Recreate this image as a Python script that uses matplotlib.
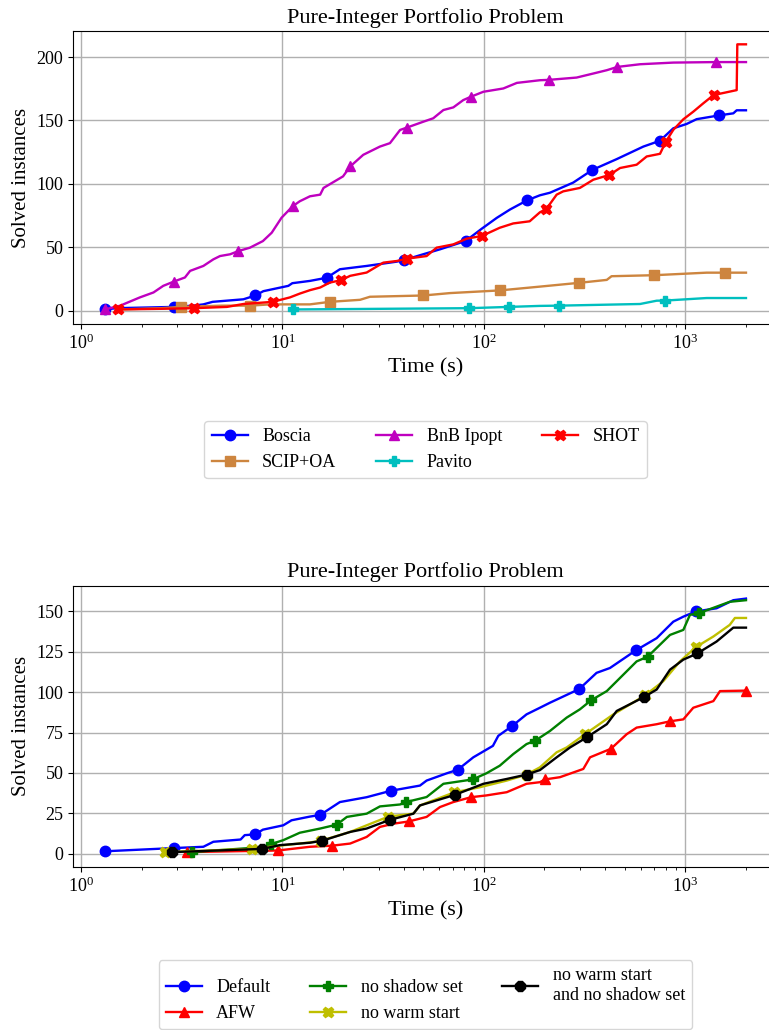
import matplotlib
matplotlib.use("Agg")
import matplotlib.pyplot as plt

plt.rcParams['font.family'] = ['Liberation Serif', 'DejaVu Serif']
plt.rcParams['mathtext.fontset'] = 'stix'

# --- top panel: solver comparison (time in s, solved count) ---
boscia_t = [1.5, 3.6, 4.05, 4.5, 6.4, 8.04, 10.7, 11.2, 13.7, 19.3, 26.2, 37, 50, 60.6, 97.6, 116, 135, 190, 213, 278, 457, 620, 873, 1016, 1140, 1734, 1802, 2004]
boscia_v = [2, 4, 5, 7, 9, 15.4, 19.6, 21.7, 23.5, 32.7, 35.3, 38.7, 44.5, 48.4, 64.6, 73.2, 79.8, 91, 93, 101, 119.5, 129.4, 143.8, 147.2, 151, 155.6, 158, 158]
boscia_mt = [1.31, 2.89, 7.34, 16.6, 40.3, 81.3, 164, 346, 750, 1476]
boscia_mv = [1, 3, 12, 26, 40, 55, 87, 111, 134, 154]

bnb_t = [1.56, 1.96, 2.29, 2.56, 3.28, 3.48, 4.05, 4.54, 4.9, 5.5, 6.9, 8.0, 8.85, 9.9, 12.2, 13.7, 15.4, 16, 20, 25.2, 30.5, 34.2, 38.4, 50.1, 56.1, 63, 70.6, 79, 99.5, 125, 146, 190, 289, 350, 408, 597, 873, 2004]
bnb_v = [3.9, 10.5, 14.4, 19.6, 26.2, 31.4, 35.3, 40.5, 43.1, 44.5, 49.7, 54.9, 61.5, 73.3, 86.3, 90.2, 91.5, 96.8, 105.9, 122.9, 129.4, 132.1, 142.5, 149, 151.7, 158.2, 160.3, 166, 172.6, 175.2, 179.6, 181.7, 183.8, 187, 189.6, 194.3, 195.6, 196]
bnb_mt = [1.31, 2.89, 6.04, 11.25, 21.7, 41.4, 86, 211, 461, 1416]
bnb_mv = [1, 23, 47, 82.4, 113.7, 144.3, 168.6, 182, 192.2, 196]

shot_t = [2.5, 5.3, 6.4, 10.9, 12.2, 13.7, 15.4, 17.2, 21.7, 26.2, 31.7, 37, 52, 58.3, 70.6, 82.3, 120, 140, 169, 190, 230, 248, 300, 350, 475, 574, 644, 750, 873, 979, 1097, 1230, 1802, 1815, 2004]
shot_v = [1.5, 3, 5.3, 10.5, 13.5, 16.2, 18.3, 22.2, 27.5, 30.1, 37.9, 39.2, 43.1, 49.7, 52.3, 56.8, 65.4, 68.8, 70.5, 77.6, 91.5, 94.1, 96.8, 103.3, 112.5, 115.1, 121.6, 123.7, 142.6, 150.9, 156.9, 163.5, 173.9, 210, 210]
shot_mt = [1.53, 3.64, 8.95, 19.5, 41.4, 98, 204, 420, 800, 1384]
shot_mv = [1, 2, 7, 24, 41, 59, 80, 107, 133, 170]

scip_t = [1.55, 2.5, 5.0, 8.7, 13.7, 24.3, 27.2, 68, 190, 408, 431, 1279, 2004]
scip_v = [1, 2, 4, 5, 5, 8.6, 11, 13.9, 19, 24.3, 27.2, 30, 30]
scip_mt = [3.14, 6.9, 17.2, 50.1, 120, 298, 703, 1585]
scip_mv = [3, 4, 7, 12, 16, 22, 28, 30]

pavito_t = [190, 597, 722, 1279, 2004]
pavito_v = [3.8, 5.3, 7.9, 10, 10]
pavito_mt = [11.3, 84.5, 133, 236, 794]
pavito_mv = [1, 2, 3, 4, 8]

# --- bottom panel: Boscia variants ---
default_t = [4.05, 4.54, 6.2, 6.5, 8.0, 10.1, 11.1, 13.7, 19.3, 26.2, 48.2, 52, 65.5, 88.7, 111, 118, 163, 190, 213, 363, 423, 722, 873, 979, 1432, 1734, 2004]
default_v = [4.3, 7.4, 8.8, 11.5, 14.9, 17.6, 20.7, 23, 32, 35, 42.2, 45.3, 49.8, 59.7, 66.8, 73, 86.3, 90.4, 93.5, 112, 115, 133.5, 143.7, 146.8, 152, 157, 158]
default_mt = [1.31, 2.89, 7.34, 15.4, 34.6, 74.2, 138, 298, 570, 1127]
default_mv = [1.5, 3.5, 12, 24, 39, 52, 79, 102, 126, 150]

afw_t = [13.7, 21.7, 26.2, 30.5, 35.6, 52, 60.6, 70.6, 103, 130, 163, 190, 239, 312, 337, 512, 574, 722, 979, 1097, 1380, 1489]
afw_v = [4.3, 6.3, 10.4, 16.6, 18.6, 22.8, 28.9, 32, 36.1, 38.1, 43.3, 44.3, 47.4, 52.5, 59.7, 74, 78.1, 80.2, 83.2, 90.4, 94.5, 100.7]
afw_mt = [3.35, 9.5, 17.7, 42.5, 86.4, 201, 428, 841, 2004]
afw_mv = [1, 2, 5, 20, 35, 46, 65, 82, 101]

noshadow_t = [8.4, 10.1, 12.2, 15.4, 20.9, 26.2, 30.5, 38.4, 52, 63, 103, 120, 140, 163, 213, 258, 300, 408, 457, 574, 841, 979, 1056, 1432, 1664, 2004]
noshadow_v = [4.3, 8.4, 13, 15.6, 22.8, 24.8, 29.3, 30.5, 35.1, 43.3, 49.8, 54.5, 61.7, 67.9, 76, 84.3, 89.4, 100.7, 106.8, 119.1, 135.5, 138.6, 147.9, 153, 156, 157]
noshadow_mt = [3.55, 8.8, 18.6, 41.1, 88, 180, 341, 651, 1170]
noshadow_mv = [1, 6, 18, 32, 46, 70, 95, 122, 149]

nowarm_t = [9.7, 13.7, 21.7, 44.7, 48.2, 95.7, 130, 190, 230, 258, 440, 778, 942, 1380, 1664, 1766, 2004]
nowarm_v = [5, 7, 13.5, 24.8, 29.9, 41.2, 45.3, 53.5, 62.8, 65.8, 86.3, 106.8, 119.1, 134.5, 141.7, 146, 146]
nowarm_mt = [2.61, 7.05, 15.5, 33.6, 71.4, 163, 318, 631, 1132]
nowarm_mv = [1, 3, 8, 23, 38, 49, 74, 98, 128]

both_t = [9.7, 13.7, 21.7, 26.2, 44.7, 48.2, 99.5, 130, 190, 230, 268, 408, 457, 722, 841, 979, 1432, 1734, 2004]
both_v = [5.3, 6.8, 13.5, 15.6, 24.8, 29.9, 43.3, 46.3, 51.8, 59.7, 65.8, 80.2, 88.4, 101.7, 114, 120.2, 131.4, 140, 140]
both_mt = [2.84, 7.94, 15.7, 34.2, 72, 163, 324, 624, 1148]
both_mv = [1, 3, 8, 21, 36.5, 49, 72, 97, 124]


def merged(t, v, mt, mv):
    pts = sorted([(a, b, False) for a, b in zip(t, v)] + [(a, b, True) for a, b in zip(mt, mv)])
    xs = [p[0] for p in pts]
    ys = [p[1] for p in pts]
    idx = [i for i, p in enumerate(pts) if p[2]]
    return xs, ys, idx


def draw(ax, series, ylim):
    for label, color, marker, t, v, mt, mv in series:
        xs, ys, idx = merged(t, v, mt, mv)
        ax.plot(xs, ys, color=color, marker=marker, markevery=idx, lw=1.7,
                markersize=7.5, label=label)
    ax.set_xscale('log')
    ax.set_xlim(0.912, 2890)
    ax.set_ylim(*ylim)
    ax.grid(True, color='#b0b0b0', lw=1.0)
    ax.set_title('Pure-Integer Portfolio Problem', fontsize=16)
    ax.set_xlabel('Time (s)', fontsize=16)
    ax.set_ylabel('Solved instances', fontsize=15)
    ax.tick_params(labelsize=13)
    ax.legend(loc='upper center', bbox_to_anchor=(0.5, -0.30), ncol=3, fontsize=13,
              columnspacing=2.2)


fig = plt.figure(figsize=(7.69, 10.30), dpi=100)
ax1 = fig.add_axes([0.0949, 0.6854, 0.9168, 0.2845])
ax2 = fig.add_axes([0.0949, 0.1586, 0.9168, 0.2728])

draw(ax1, [
    ('Boscia', 'b', 'o', boscia_t, boscia_v, boscia_mt, boscia_mv),
    ('SCIP+OA', 'peru', 's', scip_t, scip_v, scip_mt, scip_mv),
    ('BnB Ipopt', 'm', '^', bnb_t, bnb_v, bnb_mt, bnb_mv),
    ('Pavito', 'c', 'P', pavito_t, pavito_v, pavito_mt, pavito_mv),
    ('SHOT', 'r', 'X', shot_t, shot_v, shot_mt, shot_mv),
], (-10.5, 220.5))

draw(ax2, [
    ('Default', 'b', 'o', default_t, default_v, default_mt, default_mv),
    ('AFW', 'r', '^', afw_t, afw_v, afw_mt, afw_mv),
    ('no shadow set', 'g', 'P', noshadow_t, noshadow_v, noshadow_mt, noshadow_mv),
    ('no warm start', 'y', 'X', nowarm_t, nowarm_v, nowarm_mt, nowarm_mv),
    ('no warm start\nand no shadow set', 'k', '8', both_t, both_v, both_mt, both_mv),
], (-8, 166))

fig.savefig('out.png', dpi=100)
